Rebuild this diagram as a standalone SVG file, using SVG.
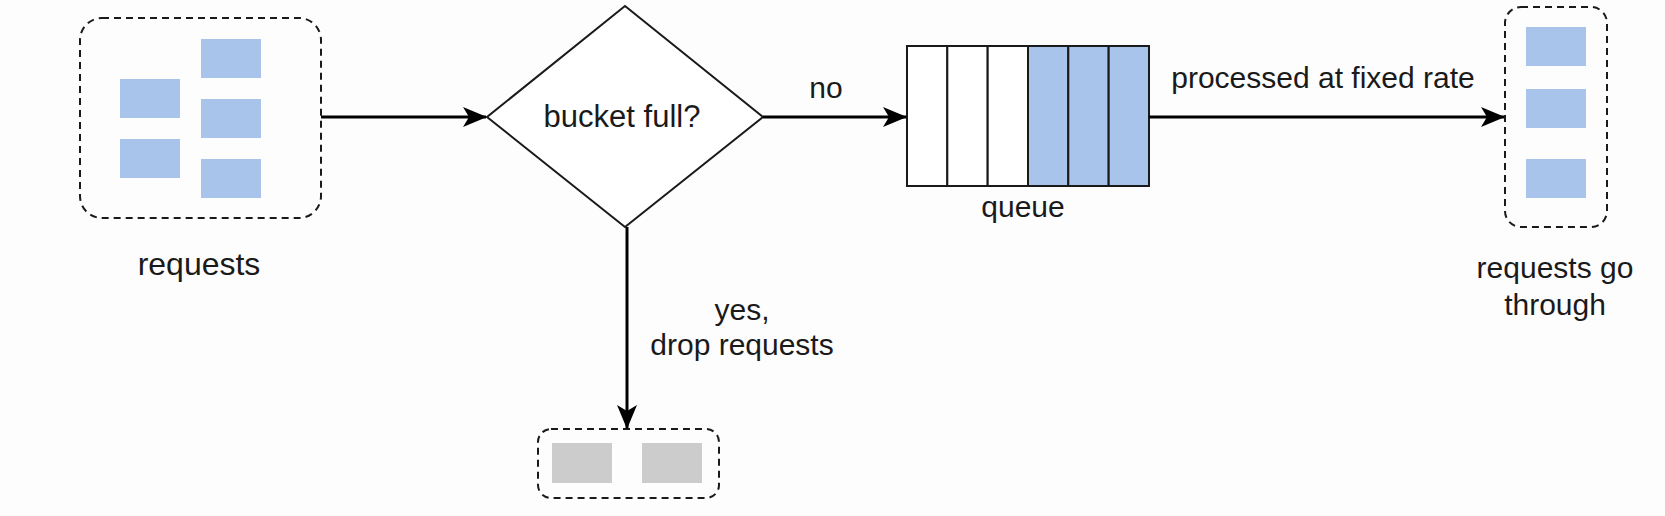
<svg xmlns="http://www.w3.org/2000/svg" width="1665" height="516" viewBox="0 0 1665 516">
<defs>
<marker id="arr" markerUnits="userSpaceOnUse" viewBox="0 0 24 20" markerWidth="24" markerHeight="20" refX="23" refY="10" orient="auto">
<path d="M0,0 L24,10 L0,20 L6,10 Z" fill="#000"/>
</marker>
</defs>
<style>
text{font-family:"Liberation Sans",Arial,sans-serif;font-size:30px;fill:#1a1a1a;text-anchor:middle}
.dash{fill:none;stroke:#1a1a1a;stroke-width:2;stroke-dasharray:7,5}
.blue{fill:#A9C4EB}
.gray{fill:#CCCCCC}
.edge{fill:none;stroke:#000;stroke-width:3;marker-end:url(#arr)}
.cell{stroke:#1a1a1a;stroke-width:2}
</style>
<rect width="1665" height="516" fill="#fdfdfd"/>
<g id="requests">
<rect class="dash" x="80" y="18" width="241" height="200" rx="22"/>
<rect class="blue" x="120" y="79" width="60" height="39"/>
<rect class="blue" x="120" y="139" width="60" height="39"/>
<rect class="blue" x="201" y="39" width="60" height="39"/>
<rect class="blue" x="201" y="99" width="60" height="39"/>
<rect class="blue" x="201" y="159" width="60" height="39"/>
<text x="199" y="275" style="font-size:32px">requests</text>
</g>
<g id="decision">
<polygon points="625,6 763,117 625,227 487,117" fill="#fff" stroke="#1a1a1a" stroke-width="2"/>
<text x="622" y="127" style="font-size:31px">bucket full?</text>
</g>
<g id="queue">
<rect class="cell" x="907" y="46" width="40.3" height="140" fill="#fff"/>
<rect class="cell" x="947.3" y="46" width="40.3" height="140" fill="#fff"/>
<rect class="cell" x="987.7" y="46" width="40.3" height="140" fill="#fff"/>
<rect class="cell blue" x="1028" y="46" width="40.3" height="140"/>
<rect class="cell blue" x="1068.3" y="46" width="40.3" height="140"/>
<rect class="cell blue" x="1108.7" y="46" width="40.3" height="140"/>
<text x="1023" y="217">queue</text>
</g>
<g id="through">
<rect class="dash" x="1505" y="7" width="102" height="220" rx="16"/>
<rect class="blue" x="1526" y="27" width="60" height="39"/>
<rect class="blue" x="1526" y="89" width="60" height="39"/>
<rect class="blue" x="1526" y="159" width="60" height="39"/>
<text x="1555" y="278">requests go</text>
<text x="1555" y="315">through</text>
</g>
<g id="dropped">
<rect class="dash" x="538" y="429" width="181" height="69" rx="13"/>
<rect class="gray" x="552" y="443" width="60" height="40"/>
<rect class="gray" x="642" y="443" width="60" height="40"/>
</g>
<g id="connectors">
<path class="edge" d="M321,117 L486,117"/>
<path class="edge" d="M763,117 L906,117"/>
<text x="826" y="98">no</text>
<path class="edge" d="M1149,117 L1504,117"/>
<text x="1323" y="88">processed at fixed rate</text>
<path class="edge" d="M627,227 L627,428"/>
<text x="742" y="320">yes,</text>
<text x="742" y="355">drop requests</text>
</g>
</svg>
